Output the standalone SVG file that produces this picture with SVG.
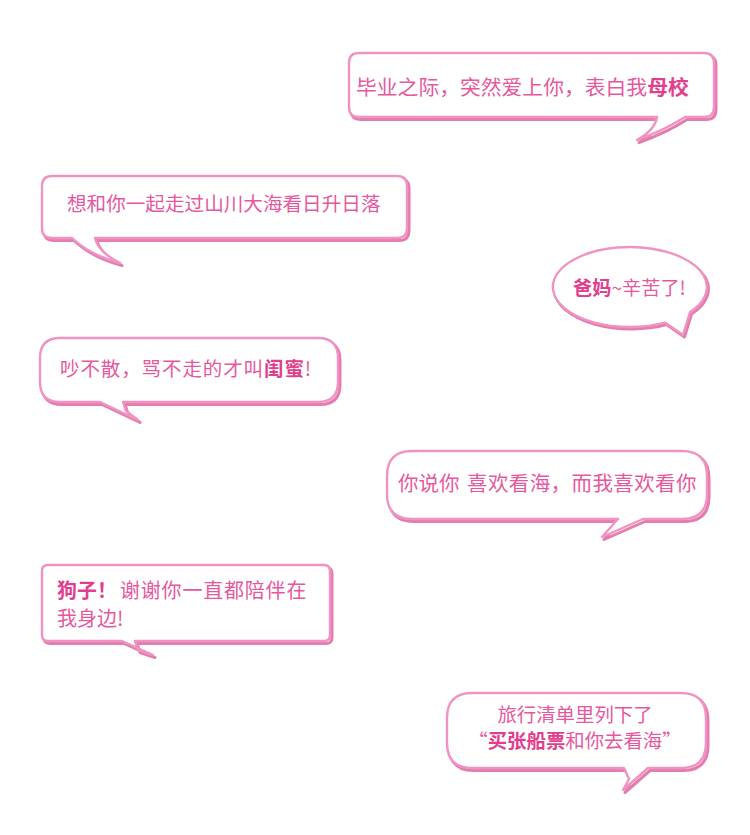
<svg xmlns="http://www.w3.org/2000/svg" width="750" height="835" viewBox="0 0 750 835">
<style>
.sh{fill:none;stroke:#e47cae;stroke-width:3;stroke-linejoin:round}
.bb{fill:#fff;stroke:#ef94c2;stroke-width:2.4;stroke-linejoin:round}
.t{font-family:"Noto Sans CJK SC","Noto Sans",sans-serif;fill:#e6589d}
.b{font-weight:bold;fill:#df3f8c}
</style>
<rect width="750" height="835" fill="#fff"/>
<g id="connectors"/>
<g id="bubble1">
<path class="sh" transform="translate(2,2.5)" d="M359,53 H704 Q714,53 714,63 V107 Q714,117 704,117 H685 Q665,130 637,140 Q655,130 657,117 H359 Q349,117 349,107 V63 Q349,53 359,53 Z"/>
<path class="bb" d="M359,53 H704 Q714,53 714,63 V107 Q714,117 704,117 H685 Q665,130 637,140 Q655,130 657,117 H359 Q349,117 349,107 V63 Q349,53 359,53 Z"/>
<text class="t" x="356" y="95" font-size="20.8">毕业之际，突然爱上你，表白我<tspan class="b">母校</tspan></text>
</g>
<g id="bubble2">
<path class="sh" transform="translate(2,2.5)" d="M52,176 H397 Q407,176 407,186 V228 Q407,238 397,238 H95 Q98,252 120,263 Q90,255 72,238 H52 Q42,238 42,228 V186 Q42,176 52,176 Z"/>
<path class="bb" d="M52,176 H397 Q407,176 407,186 V228 Q407,238 397,238 H95 Q98,252 120,263 Q90,255 72,238 H52 Q42,238 42,228 V186 Q42,176 52,176 Z"/>
<text class="t" x="67" y="211" font-size="19.6">想和你一起走过山川大海看日升日落</text>
</g>
<g id="bubble3">
<path class="sh" transform="translate(1.5,2)" d="M690,312 A77,40 0 1 0 665,322.6 L683,335 Z"/>
<path class="bb" d="M690,312 A77,40 0 1 0 665,322.6 L683,335 Z"/>
<text class="t" x="573" y="295" font-size="19.2"><tspan class="b">爸妈</tspan>~辛苦了!</text>
</g>
<g id="bubble4">
<path class="sh" transform="translate(2,2.5)" d="M60,338 H318 Q338,338 338,358 V382 Q338,402 318,402 H123 L126,411 L138,420 L100,402 H60 Q40,402 40,382 V358 Q40,338 60,338 Z"/>
<path class="bb" d="M60,338 H318 Q338,338 338,358 V382 Q338,402 318,402 H123 L126,411 L138,420 L100,402 H60 Q40,402 40,382 V358 Q40,338 60,338 Z"/>
<text class="t" x="60" y="376" font-size="19.5" letter-spacing="0.9">吵不散，骂不走的才叫<tspan class="b">闺蜜</tspan>!</text>
</g>
<g id="bubble5">
<path class="sh" transform="translate(2,2.5)" d="M412,451 H682 Q707,451 707,476 V494 Q707,519 682,519 H643 L602,537 L618,519 H412 Q387,519 387,494 V476 Q387,451 412,451 Z"/>
<path class="bb" d="M412,451 H682 Q707,451 707,476 V494 Q707,519 682,519 H643 L602,537 L618,519 H412 Q387,519 387,494 V476 Q387,451 412,451 Z"/>
<text class="t" y="491" font-size="20.5"><tspan x="398">你说你</tspan><tspan x="467" letter-spacing="0.4">喜欢看海，而我喜欢看你</tspan></text>
</g>
<g id="bubble6">
<path class="sh" transform="translate(2,2.5)" d="M48,565 H324 Q330,565 330,571 V635 Q330,641 324,641 H135 L138,650 L153,655 L122,641 H48 Q42,641 42,635 V571 Q42,565 48,565 Z"/>
<path class="bb" d="M48,565 H324 Q330,565 330,571 V635 Q330,641 324,641 H135 L138,650 L153,655 L122,641 H48 Q42,641 42,635 V571 Q42,565 48,565 Z"/>
<text class="t" y="598" font-size="20"><tspan x="57" class="b">狗子！</tspan><tspan x="120" letter-spacing="0.8">谢谢你一直都陪伴在</tspan></text>
<text class="t" x="57" y="626" font-size="20">我身边!</text>
</g>
<g id="bubble7">
<path class="sh" transform="translate(2,2.5)" d="M472,693 H681 Q706,693 706,718 V743 Q706,768 681,768 H648 L623,790 L629,779 L624,768 H472 Q447,768 447,743 V718 Q447,693 472,693 Z"/>
<path class="bb" d="M472,693 H681 Q706,693 706,718 V743 Q706,768 681,768 H648 L623,790 L629,779 L624,768 H472 Q447,768 447,743 V718 Q447,693 472,693 Z"/>
<text class="t" x="575" y="722" font-size="19.4" text-anchor="middle">旅行清单里列下了</text>
<text class="t" x="575" y="748" font-size="19.4" text-anchor="middle">“<tspan class="b">买张船票</tspan>和你去看海”</text>
</g>
</svg>
